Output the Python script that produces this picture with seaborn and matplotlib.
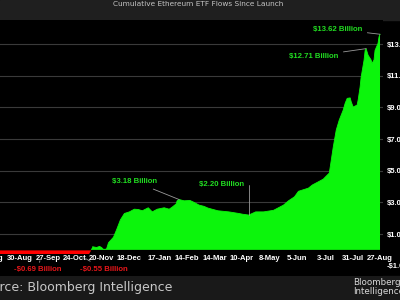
import pandas as pd
import matplotlib
matplotlib.use("Agg")
import matplotlib.pyplot as plt
import seaborn as sns
from matplotlib.patches import Rectangle

# cumulative net flows, $ billions
flow_dates = [
    "2024-07-23", "2024-07-24", "2024-07-25", "2024-07-26", "2024-07-30", "2024-08-01",
    "2024-08-05", "2024-08-09", "2024-08-16", "2024-08-23", "2024-08-30", "2024-09-06",
    "2024-09-13", "2024-09-19", "2024-09-27", "2024-10-04", "2024-10-11", "2024-10-18",
    "2024-10-25", "2024-11-01", "2024-11-04", "2024-11-11", "2024-11-15", "2024-11-18",
    "2024-11-20", "2024-11-22", "2024-11-25", "2024-11-27", "2024-12-02", "2024-12-05",
    "2024-12-09", "2024-12-13", "2024-12-18", "2024-12-23", "2024-12-27", "2024-12-31",
    "2025-01-06", "2025-01-10", "2025-01-15", "2025-01-22", "2025-01-27", "2025-01-30",
    "2025-02-03", "2025-02-04", "2025-02-06", "2025-02-11", "2025-02-17", "2025-02-21",
    "2025-02-26", "2025-03-03", "2025-03-07", "2025-03-17", "2025-03-28", "2025-04-07",
    "2025-04-11", "2025-04-17", "2025-04-24", "2025-05-02", "2025-05-12", "2025-05-22",
    "2025-05-27", "2025-06-02", "2025-06-06", "2025-06-11", "2025-06-16", "2025-06-20",
    "2025-06-26", "2025-07-01", "2025-07-03", "2025-07-07", "2025-07-09", "2025-07-11",
    "2025-07-14", "2025-07-17", "2025-07-21", "2025-07-23", "2025-07-25", "2025-07-28",
    "2025-07-29", "2025-07-31", "2025-08-04", "2025-08-05", "2025-08-07", "2025-08-08",
    "2025-08-11", "2025-08-12", "2025-08-13", "2025-08-15", "2025-08-18", "2025-08-19",
    "2025-08-21", "2025-08-22", "2025-08-25", "2025-08-26", "2025-08-27",
]
flow_billions = [
    0.11, -0.03, -0.18, -0.34, -0.41, -0.52,
    -0.47, -0.42, -0.44, -0.47, -0.48, -0.55,
    -0.60, -0.69, -0.62, -0.58, -0.57, -0.50,
    -0.49, -0.50, -0.55, 0.20, 0.15, 0.22,
    0.15, 0.03, 0.05, 0.45, 0.80, 1.25,
    1.90, 2.30, 2.40, 2.57, 2.55, 2.47,
    2.66, 2.40, 2.57, 2.66, 2.57, 2.70,
    2.90, 3.10, 3.18, 3.10, 3.12, 3.00,
    2.83, 2.75, 2.64, 2.47, 2.40, 2.30,
    2.25, 2.20, 2.40, 2.40, 2.50, 2.83,
    3.10, 3.35, 3.70, 3.80, 3.90, 4.10,
    4.30, 4.47, 4.60, 4.85, 5.67, 6.50,
    7.57, 8.20, 8.83, 9.27, 9.57, 9.60,
    9.36, 9.02, 9.15, 9.46, 10.30, 10.90,
    12.00, 12.58, 12.71, 12.30, 12.00, 11.78,
    12.00, 12.60, 13.04, 13.46, 13.62,
]

tick_dates = ["2024-08-02", "2024-08-30", "2024-09-27", "2024-10-24", "2024-11-20",
              "2024-12-18", "2025-01-17", "2025-02-14", "2025-03-14", "2025-04-10",
              "2025-05-08", "2025-06-05", "2025-07-03", "2025-07-31", "2025-08-27"]
ytick_values = [-1, 1, 3, 5, 7, 9, 11, 13]

callout_dates = ["2025-08-27", "2025-08-13", "2025-02-06", "2025-04-17", "2024-09-19", "2024-11-04"]
callout_values = [13.62, 12.71, 3.18, 2.20, -0.69, -0.55]

GREEN = "#0cf50c"
RED = "#ff0000"

sns.set_theme(style="dark")
plt.rcParams['font.family'] = ['Liberation Sans', 'DejaVu Sans']

df = pd.DataFrame({'date': pd.to_datetime(flow_dates), 'flow': flow_billions})

fig = plt.figure(figsize=(4, 3), dpi=100, facecolor='black')
# title bar and footer bar
fig.add_artist(Rectangle((0, 1 - 20 / 300), 1, 20 / 300, transform=fig.transFigure,
                         color='#1f1f1f', zorder=0))
fig.add_artist(Rectangle((0, 0), 1, 24 / 300, transform=fig.transFigure,
                         color='#191919', zorder=0))

ax = fig.add_axes([-0.05, 0.08, 1.0075, 256 / 300])
ax.set_facecolor('black')

ax.fill_between(df['date'], df['flow'], 0, where=df['flow'] >= 0, interpolate=True,
                color=GREEN, lw=0, zorder=2)
ax.fill_between(df['date'], df['flow'], 0, where=df['flow'] <= 0, interpolate=True,
                color=RED, lw=0, zorder=2)
sns.lineplot(data=df[df['date'] >= '2024-11-11'], x='date', y='flow', ax=ax,
             color=GREEN, lw=0.6, zorder=2)

# labels sit on the zero line with a black backing
ax.axhspan(-1.65, -0.27, color='black', lw=0, zorder=2.2)

ax.set_xlim(pd.Timestamp('2024-07-20 19:00'), pd.Timestamp('2025-08-30'))
ax.set_ylim(-1.65, 14.52)
ax.set_xlabel('')
ax.set_ylabel('')

ax.set_axisbelow(True)
ax.xaxis.set_zorder(3)
ax.spines['bottom'].set_position(('data', 0))
for s in ax.spines.values():
    s.set_visible(False)
ax.grid(axis='y', color='#3a3a3a', lw=0.8)
ax.grid(axis='x', visible=False)

xt = pd.to_datetime(tick_dates)
ax.set_xticks(xt)
ax.set_xticklabels([f"{d.day}-{d:%b}" for d in xt], fontweight='bold')
ax.tick_params(axis='x', direction='in', length=2, width=0.6, color='#999999',
               pad=3.4, labelsize=5.5, labelcolor='white')

ax.yaxis.tick_right()
ax.set_yticks(ytick_values)
ax.set_yticklabels([("-$" if v < 0 else "$") + f"{abs(v):.2f}B" for v in ytick_values],
                   fontweight='bold')
ax.tick_params(axis='y', length=0, pad=2.9, labelsize=5.5, labelcolor='white')

# callouts
offsets = [(-18, 5, 'right', None), (-28, -7.5, 'right', None), (-22, 18, 'right', None),
           (-5, 31, 'right', 'angle,angleA=0,angleB=90,rad=0'),
           (-2, -8.3, 'center', None), (18, -10.5, 'center', None)]
for d, v, (dx, dy, ha, cs) in zip(callout_dates, callout_values, offsets):
    txt = ("-$" if v < 0 else "$") + f"{abs(v):.2f} Billion"
    arrow = dict(arrowstyle='-', color='#9a9a9a', lw=0.6, shrinkA=1.5, shrinkB=0)
    if cs:
        arrow['connectionstyle'] = cs
    ax.annotate(txt, xy=(pd.Timestamp(d), v), xytext=(dx, dy), textcoords='offset pixels',
                ha=ha, va='center', fontsize=5.6, fontweight='bold',
                color='#22dd22' if v > 0 else '#e8161a', arrowprops=arrow, zorder=4)

fig.text(0.495, 0.985, "Cumulative Ethereum ETF Flows Since Launch", ha='center', va='center',
         fontsize=5.3, color='#c4c4c4', family='DejaVu Sans')
fig.text(-23.5 / 400, 1 - 287 / 300, "Source: Bloomberg Intelligence", ha='left', va='center',
         fontsize=9, color='#c8c8c8', family='DejaVu Sans')
fig.text(352.7 / 400, 1 - 278 / 300, "Bloomberg\nIntelligence", ha='left', va='top',
         fontsize=6.3, color='#d8d8d8', linespacing=1.0, family='DejaVu Sans')

fig.savefig('out.png', dpi=100, facecolor=fig.get_facecolor())
